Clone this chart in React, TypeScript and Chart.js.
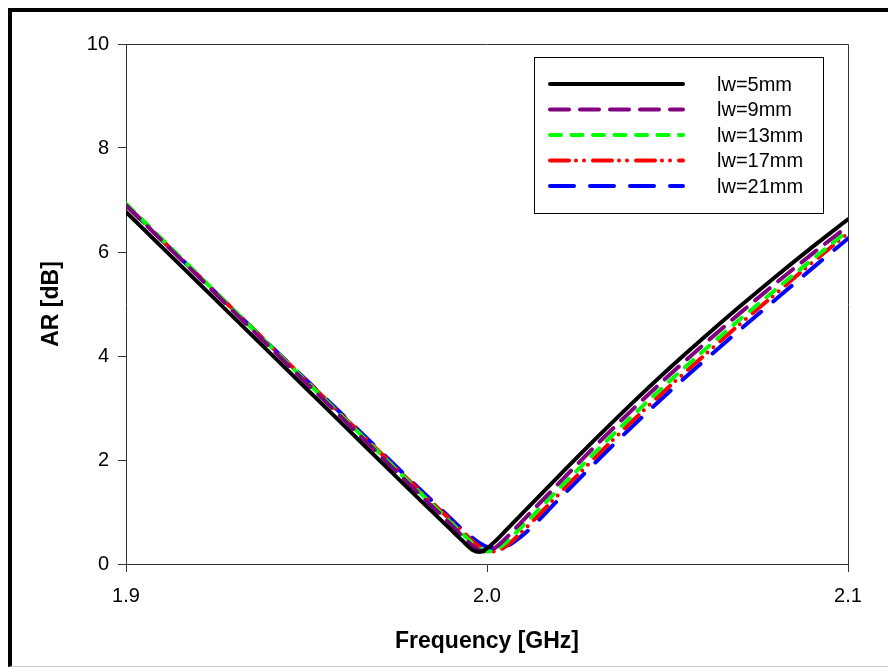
import React, { useEffect, useRef } from "react";
import { Chart, registerables } from "chart.js";

Chart.register(...registerables);

const FREQ = [1.9, 1.92, 1.94, 1.96, 1.98, 1.99, 1.993, 1.996, 1.998, 2.0, 2.002, 2.005, 2.01, 2.02, 2.03, 2.04, 2.05, 2.06, 2.07, 2.08, 2.09, 2.1];

const AR_LW5 = [6.77, 5.41, 4.05, 2.69, 1.33, 0.66, 0.46, 0.27, 0.23, 0.3, 0.42, 0.63, 0.99, 1.7, 2.4, 3.08, 3.73, 4.35, 4.95, 5.53, 6.09, 6.63];
const AR_LW9 = [6.9, 5.53, 4.16, 2.8, 1.43, 0.76, 0.55, 0.35, 0.26, 0.24, 0.3, 0.48, 0.84, 1.56, 2.27, 2.95, 3.6, 4.22, 4.82, 5.4, 5.96, 6.5];
const AR_LW13 = [6.93, 5.56, 4.19, 2.83, 1.47, 0.8, 0.6, 0.4, 0.3, 0.24, 0.26, 0.4, 0.74, 1.45, 2.15, 2.83, 3.48, 4.1, 4.7, 5.28, 5.85, 6.41];
const AR_LW17 = [6.9, 5.55, 4.2, 2.85, 1.5, 0.84, 0.64, 0.44, 0.33, 0.25, 0.24, 0.33, 0.64, 1.35, 2.05, 2.73, 3.38, 4.0, 4.61, 5.2, 5.79, 6.36];
const AR_LW21 = [6.9, 5.55, 4.2, 2.87, 1.53, 0.87, 0.67, 0.5, 0.4, 0.33, 0.3, 0.33, 0.56, 1.25, 1.95, 2.63, 3.28, 3.9, 4.5, 5.09, 5.68, 6.26];

const SERIES_LABELS = ["lw=5mm", "lw=9mm", "lw=13mm", "lw=17mm", "lw=21mm"];
const SERIES_VALUES = [AR_LW5, AR_LW9, AR_LW13, AR_LW17, AR_LW21];
const SERIES_COLORS = ["#000000", "#800080", "#00ff00", "#ff0000", "#0000ff"];
const SERIES_DASHES: number[][] = [[], [19, 11], [11, 10.5], [19, 7, 0, 8, 0, 9], [24, 16]];

const X_TICKS = [1.9, 2.0, 2.1];
const Y_TICKS = [0, 2, 4, 6, 8, 10];

const FONT = "'Liberation Sans', Arial, sans-serif";

const framePlugin = {
  id: "frameAndLegend",
  afterDatasetsDraw(chart: any) {
    const { ctx, chartArea } = chart;
    const { left, top, right, bottom } = chartArea;
    ctx.save();
    ctx.strokeStyle = "#333333";
    ctx.lineWidth = 1;
    ctx.setLineDash([]);
    ctx.beginPath();
    ctx.moveTo(left + 0.5, top + 0.5);
    ctx.lineTo(right + 0.5, top + 0.5);
    ctx.lineTo(right + 0.5, bottom + 0.5);
    ctx.stroke();

    // legend
    const bw = 289;
    const bh = 156;
    const bx = right - 25 - bw;
    const by = top + 13;
    ctx.fillStyle = "#ffffff";
    ctx.fillRect(bx, by, bw, bh);
    ctx.strokeStyle = "#000000";
    ctx.strokeRect(bx + 0.5, by + 0.5, bw, bh);
    chart.data.datasets.forEach((ds: any, i: number) => {
      const y = by + 27 + i * 25.5;
      ctx.save();
      ctx.strokeStyle = ds.borderColor;
      ctx.lineWidth = ds.borderWidth;
      ctx.lineCap = "round";
      ctx.setLineDash(ds.borderDash || []);
      ctx.beginPath();
      ctx.moveTo(bx + 16, y);
      ctx.lineTo(bx + 149, y);
      ctx.stroke();
      ctx.restore();
      ctx.fillStyle = "#000000";
      ctx.font = `20px ${FONT}`;
      ctx.textBaseline = "middle";
      ctx.textAlign = "left";
      ctx.fillText(ds.label, bx + 183, y + 1);
    });
    ctx.restore();
  },
};

export default function App() {
  const ref = useRef<HTMLCanvasElement | null>(null);

  useEffect(() => {
    if (!ref.current) return;
    const datasets = SERIES_LABELS.map((label, i) => ({
      label,
      data: FREQ.map((f, j) => ({ x: f, y: SERIES_VALUES[i][j] })),
      borderColor: SERIES_COLORS[i],
      backgroundColor: SERIES_COLORS[i],
      borderWidth: 4,
      borderDash: SERIES_DASHES[i],
      borderCapStyle: "round" as const,
      borderJoinStyle: "round" as const,
      pointRadius: 0,
      cubicInterpolationMode: "monotone" as const,
      fill: false,
    }));

    const chart = new Chart(ref.current, {
      type: "line",
      data: { datasets },
      plugins: [framePlugin],
      options: {
        animation: false,
        responsive: false,
        maintainAspectRatio: false,
        layout: { padding: { top: 32, right: 48, left: 0, bottom: 0 } },
        plugins: { legend: { display: false }, tooltip: { enabled: false } },
        scales: {
          x: {
            type: "linear",
            min: 1.9,
            max: 2.1,
            afterBuildTicks: (scale: any) => {
              scale.ticks = X_TICKS.map((v) => ({ value: v }));
            },
            afterFit: (scale: any) => {
              scale.height = 102;
            },
            ticks: {
              color: "#000000",
              font: { family: FONT, size: 20 },
              padding: 12,
              maxRotation: 0,
              callback: (v: any) => Number(v).toFixed(1),
            },
            grid: { drawOnChartArea: false, drawTicks: true, tickLength: 8, color: "#333333" },
            border: { display: true, color: "#333333", width: 1 },
            title: {
              display: true,
              text: "Frequency [GHz]",
              color: "#000000",
              font: { family: FONT, size: 23, weight: "bold" },
              padding: { top: 0, bottom: 11 },
            },
          },
          y: {
            type: "linear",
            min: 0,
            max: 10,
            afterBuildTicks: (scale: any) => {
              scale.ticks = Y_TICKS.map((v) => ({ value: v }));
            },
            afterFit: (scale: any) => {
              scale.width = 114;
            },
            ticks: {
              color: "#000000",
              font: { family: FONT, size: 20 },
              padding: 9,
              callback: (v: any) => String(v),
            },
            grid: { drawOnChartArea: false, drawTicks: true, tickLength: 8, color: "#333333" },
            border: { display: true, color: "#333333", width: 1 },
            title: {
              display: true,
              text: "AR [dB]",
              color: "#000000",
              font: { family: FONT, size: 23, weight: "bold" },
              padding: { top: 26, bottom: 0 },
            },
          },
        },
      },
    });
    return () => chart.destroy();
  }, []);

  return (
    <div
      style={{
        width: 884,
        height: 654,
        borderTop: "4px solid #000",
        borderLeft: "4px solid #000",
        borderBottom: "1px solid #c8c8c8",
        position: "relative",
        background: "#fff",
      }}
    >
      <canvas ref={ref} width={884} height={654} style={{ display: "block", width: 884, height: 654 }} />
    </div>
  );
}
